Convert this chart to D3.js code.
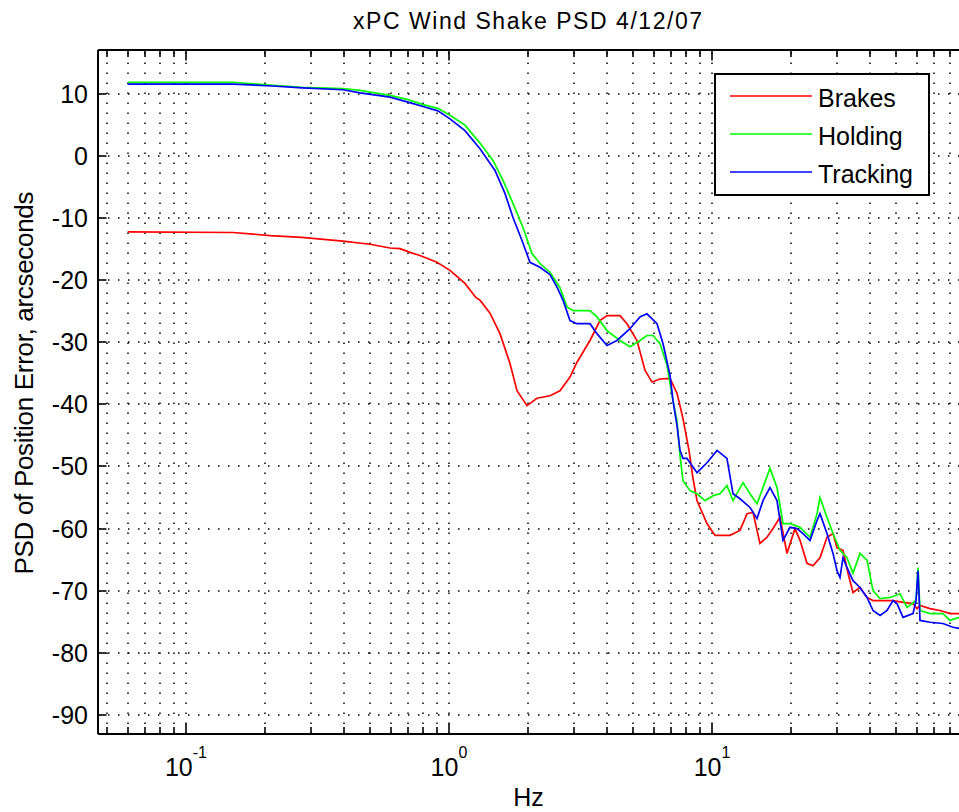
<!DOCTYPE html>
<html>
<head>
<meta charset="utf-8">
<script src="https://cdn.jsdelivr.net/npm/d3@7"></script>
<style>
  html, body { margin: 0; padding: 0; background: #fff; }
  svg { display: block; }
  text { font-family: "Liberation Sans", Arial, sans-serif; fill: #000; }
</style>
</head>
<body>
<svg id="chart" width="959" height="812"></svg>
<script>
// ---------------- data ----------------
const title = "xPC Wind Shake PSD 4/12/07";
const xLabel = "Hz";
const yLabel = "PSD of Position Error, arcseconds";
const seriesNames = ["Brakes", "Holding", "Tracking"];
const seriesColors = ["#ff0000", "#00ff00", "#0000ff"];

const yTicks = [-90, -80, -70, -60, -50, -40, -30, -20, -10, 0, 10];
const xMajorExponents = [-1, 0, 1, 2];
const xLabelExponents = [-1, 0, 1];

const brakesHz = [0.060, 0.151, 0.209, 0.276, 0.395, 0.501, 0.597, 0.651, 0.711, 0.776, 0.900, 1.009, 1.150, 1.267, 1.312, 1.432, 1.563, 1.706, 1.814, 1.980, 2.161, 2.421, 2.643, 2.885, 3.067, 3.437, 3.750, 3.989, 4.469, 4.752, 5.186, 5.562, 5.914, 6.343, 6.924, 7.361, 7.557, 7.758, 8.177, 8.469, 8.770, 9.572, 10.27, 11.71, 12.78, 13.59, 14.32, 15.22, 16.19, 17.06, 18.14, 19.28, 20.68, 21.61, 22.97, 24.21, 25.74, 27.37, 28.85, 29.88, 31.49, 32.90, 34.37, 36.53, 38.85, 40.95, 44.70, 48.79, 53.25, 58.13, 60.20, 61.80, 67.45, 73.59, 80.34, 86.95];
const brakesDb = [-12.2, -12.3, -12.8, -13.1, -13.7, -14.2, -14.8, -14.9, -15.5, -16.0, -17.1, -18.4, -20.5, -22.8, -23.2, -25.3, -28.6, -33.4, -37.8, -40.2, -39.0, -38.6, -37.8, -35.6, -33.2, -29.7, -26.5, -25.7, -25.7, -27.0, -29.7, -34.5, -36.4, -35.9, -35.8, -38.2, -40.2, -42.3, -47.4, -51.9, -55.5, -59.2, -61.1, -61.1, -60.3, -57.6, -57.4, -62.4, -61.4, -60.0, -58.2, -64.0, -60.0, -61.9, -65.6, -66.0, -64.7, -61.4, -60.8, -63.1, -63.5, -67.2, -70.3, -69.5, -71.1, -71.6, -71.6, -71.6, -71.9, -72.1, -72.9, -72.4, -72.9, -73.2, -73.7, -73.7];

const holdingHz = [0.060, 0.151, 0.214, 0.276, 0.395, 0.459, 0.597, 0.698, 0.797, 0.908, 1.009, 1.150, 1.312, 1.470, 1.605, 1.751, 1.912, 2.068, 2.218, 2.421, 2.643, 2.811, 2.962, 3.437, 3.653, 3.989, 4.469, 4.878, 5.323, 5.661, 5.966, 6.343, 6.745, 7.108, 7.361, 7.557, 7.758, 8.248, 8.770, 9.406, 10.09, 10.72, 11.40, 12.02, 13.12, 13.95, 14.83, 15.63, 16.61, 17.67, 18.62, 19.80, 21.61, 23.59, 25.08, 25.74, 27.37, 28.85, 30.67, 32.61, 34.37, 36.53, 38.85, 40.95, 43.55, 47.52, 51.87, 55.15, 59.67, 60.73, 61.80, 67.45, 75.54, 80.34, 86.95];
const holdingDb = [11.9, 11.9, 11.4, 11.1, 10.9, 10.6, 9.8, 9.1, 8.3, 7.7, 6.6, 5.0, 2.1, -0.7, -3.9, -7.6, -11.5, -15.7, -17.3, -18.7, -21.2, -24.3, -24.9, -24.9, -25.9, -28.1, -29.7, -30.7, -29.7, -28.9, -28.9, -30.2, -33.7, -39.4, -42.6, -48.2, -52.3, -53.9, -54.4, -55.5, -54.7, -54.4, -53.1, -55.5, -52.6, -54.4, -56.0, -53.4, -50.3, -53.4, -59.2, -59.2, -59.8, -61.4, -57.6, -55.0, -58.2, -60.8, -63.5, -64.7, -67.2, -64.0, -65.1, -70.0, -71.3, -71.1, -70.5, -72.7, -71.6, -66.3, -73.2, -73.7, -73.7, -74.8, -74.3];

const trackingHz = [0.060, 0.151, 0.214, 0.276, 0.395, 0.459, 0.597, 0.698, 0.797, 0.908, 1.009, 1.150, 1.312, 1.496, 1.633, 1.751, 1.895, 2.032, 2.218, 2.421, 2.575, 2.714, 2.885, 3.067, 3.437, 3.653, 3.989, 4.353, 4.878, 5.323, 5.661, 6.179, 6.512, 6.924, 7.108, 7.361, 7.557, 7.758, 8.034, 8.770, 9.572, 10.45, 11.40, 12.02, 12.78, 13.95, 14.83, 15.63, 16.61, 17.67, 18.62, 19.80, 21.05, 22.18, 23.59, 25.08, 25.74, 27.37, 28.85, 29.88, 30.67, 31.49, 32.61, 34.37, 36.53, 38.85, 40.95, 43.55, 46.29, 48.79, 50.52, 53.25, 58.13, 59.67, 60.73, 61.80, 67.45, 75.54, 82.47, 86.95];
const trackingDb = [11.6, 11.6, 11.3, 11.0, 10.7, 10.2, 9.5, 8.7, 8.0, 7.3, 6.0, 4.1, 1.2, -2.3, -6.0, -9.9, -13.6, -17.1, -17.9, -19.1, -21.1, -23.2, -26.5, -27.0, -27.0, -28.6, -30.5, -29.7, -27.8, -25.9, -25.4, -27.0, -30.2, -35.3, -39.4, -43.4, -47.4, -48.7, -48.7, -51.0, -49.4, -47.4, -48.7, -54.4, -55.2, -56.6, -58.4, -55.5, -53.4, -55.5, -61.9, -59.8, -60.0, -60.8, -61.9, -58.7, -57.6, -60.8, -64.0, -66.8, -67.9, -64.7, -66.3, -68.4, -69.5, -71.1, -73.2, -74.0, -73.2, -71.6, -72.1, -74.3, -73.7, -71.6, -66.8, -74.8, -75.1, -75.3, -75.9, -76.1];

// ---------------- layout ----------------
const W = 959, H = 812;
const plot = { left: 98, top: 50, right: 975, bottom: 734 };

const svg = d3.select("#chart");
svg.append("rect").attr("width", W).attr("height", H).attr("fill", "#fff");

const x = d3.scaleLog().domain([0.0463, 100]).range([plot.left, plot.right]);
const y = d3.scaleLinear().domain([-93.1, 17.1]).range([plot.bottom, plot.top]);

// tick positions
const majorX = xMajorExponents.map(e => Math.pow(10, e));
const minorX = [];
[-2, -1, 0, 1].forEach(e => {
  for (let m = 2; m <= 9; m++) {
    const v = m * Math.pow(10, e);
    if (v >= x.domain()[0] && v <= x.domain()[1]) minorX.push(v);
  }
});
const allX = majorX.concat(minorX);

const g = svg.append("g");

// grid
const grid = g.append("g")
  .attr("stroke", "#000").attr("stroke-width", 1.5)
  .attr("stroke-dasharray", "1.5,8.5").attr("fill", "none");
grid.selectAll("line.gx").data(allX).join("line").attr("class", "gx")
  .attr("x1", d => Math.round(x(d))).attr("x2", d => Math.round(x(d)))
  .attr("y1", plot.bottom).attr("y2", plot.top);
grid.selectAll("line.gy").data(yTicks).join("line").attr("class", "gy")
  .attr("y1", d => Math.round(y(d))).attr("y2", d => Math.round(y(d)))
  .attr("x1", plot.left).attr("x2", plot.right);

// data lines
svg.append("clipPath").attr("id", "clip").append("rect")
  .attr("x", plot.left).attr("y", plot.top)
  .attr("width", plot.right - plot.left).attr("height", plot.bottom - plot.top);

const series = [
  { name: seriesNames[0], color: seriesColors[0], hz: brakesHz, db: brakesDb },
  { name: seriesNames[1], color: seriesColors[1], hz: holdingHz, db: holdingDb },
  { name: seriesNames[2], color: seriesColors[2], hz: trackingHz, db: trackingDb }
];
const line = d3.line().x(d => x(d[0])).y(d => y(d[1]));
g.append("g").attr("clip-path", "url(#clip)")
  .selectAll("path").data(series).join("path")
  .attr("fill", "none").attr("stroke", d => d.color).attr("stroke-width", 1.7)
  .attr("stroke-linejoin", "miter")
  .attr("d", d => line(d.hz.map((h, i) => [h, d.db[i]])));

// axes box
const axis = g.append("g").attr("stroke", "#000").attr("fill", "none");
axis.append("line").attr("x1", plot.left).attr("x2", plot.right).attr("y1", plot.top).attr("y2", plot.top).attr("stroke-width", 2);
axis.append("line").attr("x1", plot.left).attr("x2", plot.right).attr("y1", plot.bottom).attr("y2", plot.bottom).attr("stroke-width", 2);
axis.append("line").attr("x1", plot.left).attr("x2", plot.left).attr("y1", plot.top).attr("y2", plot.bottom).attr("stroke-width", 2);
axis.append("line").attr("x1", plot.right).attr("x2", plot.right).attr("y1", plot.top).attr("y2", plot.bottom).attr("stroke-width", 2);

// x ticks (inside, top and bottom)
const tickG = axis.append("g").attr("stroke-width", 1.6);
[[majorX, 10.5], [minorX, 7]].forEach(([vals, len]) => {
  vals.forEach(v => {
    const px = Math.round(x(v));
    tickG.append("line").attr("x1", px).attr("x2", px).attr("y1", plot.bottom).attr("y2", plot.bottom - len);
    tickG.append("line").attr("x1", px).attr("x2", px).attr("y1", plot.top).attr("y2", plot.top + len);
  });
});
// y ticks
yTicks.forEach(v => {
  const py = Math.round(y(v));
  tickG.append("line").attr("x1", plot.left).attr("x2", plot.left + 8.5).attr("y1", py).attr("y2", py);
  tickG.append("line").attr("x1", plot.right).attr("x2", plot.right - 8.5).attr("y1", py).attr("y2", py);
});

// y tick labels
g.append("g").selectAll("text").data(yTicks).join("text")
  .attr("x", plot.left - 10).attr("y", d => y(d))
  .attr("dy", "0.36em").attr("text-anchor", "end")
  .attr("font-size", 25).text(d => d);

// x tick labels (10^n)
const xl = g.append("g").selectAll("text").data(xLabelExponents).join("text")
  .attr("x", d => x(Math.pow(10, d))).attr("y", 776)
  .attr("text-anchor", "middle").attr("font-size", 25);
xl.append("tspan").text("10");
xl.append("tspan").attr("font-size", 16).attr("dy", -18).text(d => d);

// title and axis labels
const midX = (plot.left + W - 2) / 2;
svg.append("text").attr("x", midX).attr("y", 29).attr("text-anchor", "middle")
  .attr("font-size", 23).attr("textLength", 349).attr("lengthAdjust", "spacing").text(title);
svg.append("text").attr("x", midX + 1).attr("y", 806).attr("text-anchor", "middle")
  .attr("font-size", 25).text(xLabel);
svg.append("text").attr("transform", "translate(33,383) rotate(-90)")
  .attr("text-anchor", "middle").attr("font-size", 26)
  .attr("textLength", 383).attr("lengthAdjust", "spacing").text(yLabel);

// legend
const leg = svg.append("g");
leg.append("rect").attr("x", 715).attr("y", 74).attr("width", 214).attr("height", 121)
  .attr("fill", "#fff").attr("stroke", "#000").attr("stroke-width", 2);
series.forEach((s, i) => {
  const cy = 96 + i * 38;
  leg.append("line").attr("x1", 730).attr("x2", 812).attr("y1", cy).attr("y2", cy)
    .attr("stroke", s.color).attr("stroke-width", 1.7);
  leg.append("text").attr("x", 818).attr("y", cy + 10.5).attr("font-size", 25).text(s.name);
});
</script>
</body>
</html>
